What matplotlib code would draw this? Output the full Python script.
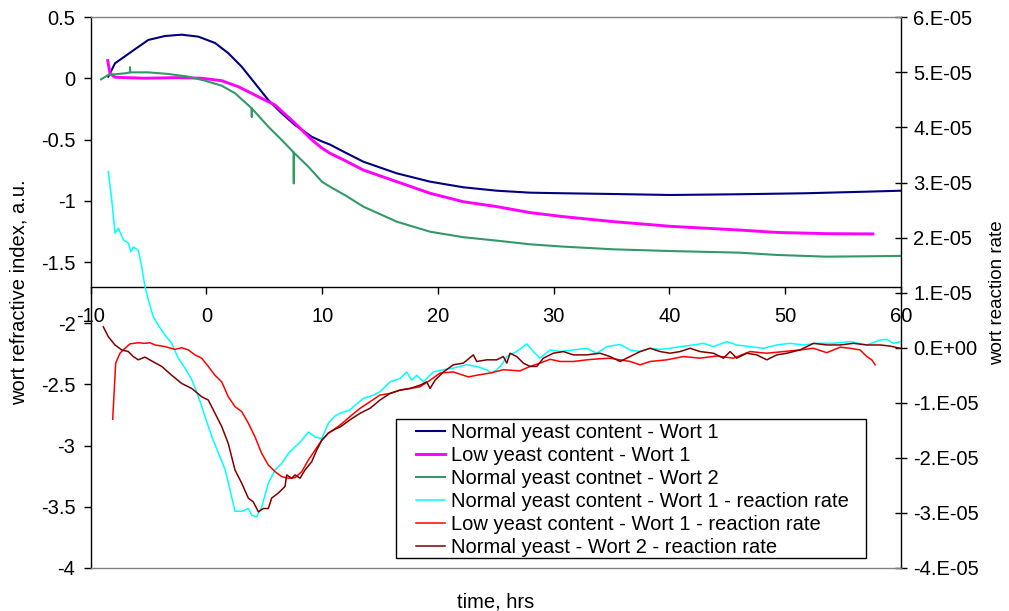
import numpy as np
import matplotlib
matplotlib.use("Agg")
import matplotlib.pyplot as plt
from matplotlib.patches import Rectangle
from matplotlib.ticker import FuncFormatter, MultipleLocator

plt.rcParams['font.family'] = ['Liberation Sans', 'DejaVu Sans']

# ---------------- data: refractive index (left axis) ----------------
navy_x = [-8.48, -7.90, -6.46, -5.02, -3.58, -2.14, -0.70, 0.75, 1.90, 3.05, 4.20, 5.35,
          6.50, 7.65, 9.10, 10.0, 10.68, 12.0, 13.56, 16.45, 19.33, 22.2, 25.1, 27.97,
          30.85, 35.2, 40.1, 46.0, 51.7, 57.0, 60.0]
navy_y = [0.015, 0.124, 0.22, 0.315, 0.347, 0.358, 0.342, 0.29, 0.206, 0.096, -0.04, -0.176,
          -0.284, -0.38, -0.476, -0.515, -0.54, -0.605, -0.68, -0.775, -0.843, -0.889, -0.917,
          -0.933, -0.938, -0.944, -0.952, -0.946, -0.938, -0.925, -0.917]

mag_x = [-8.53, -8.33, -7.90, -5.31, -2.43, -0.41, 1.32, 2.76, 4.49, 5.93, 7.66, 9.10,
         10.0, 10.68, 12.0, 13.56, 16.45, 19.33, 22.2, 25.1, 27.97, 30.85, 35.2, 40.1,
         46.0, 49.3, 53.6, 57.6]
mag_y = [0.146, 0.04, 0.01, 0.002, 0.007, 0.002, -0.018, -0.067, -0.149, -0.217, -0.366, -0.5,
         -0.57, -0.611, -0.672, -0.748, -0.843, -0.938, -1.007, -1.047, -1.096, -1.129, -1.17,
         -1.208, -1.238, -1.258, -1.268, -1.27]

grn_x = [-9.11, -8.48, -7.04, -6.6, -6.6, -6.6, -5.02, -3.29, -1.56, -0.12, 1.32, 2.48,
         3.92, 3.92, 3.92, 5.35, 6.50, 7.55, 7.55, 7.55, 8.8, 10.0, 10.68, 12.0, 13.56,
         16.45, 19.33, 22.2, 25.1, 27.97, 30.85, 35.2, 40.1, 46.0, 49.3, 53.6, 60.0]
grn_y = [-0.007, 0.029, 0.042, 0.05, 0.09, 0.05, 0.05, 0.037, 0.015, -0.018, -0.059, -0.121,
         -0.244, -0.312, -0.244, -0.394, -0.502, -0.605, -0.856, -0.605, -0.72, -0.845, -0.884,
         -0.955, -1.047, -1.17, -1.252, -1.297, -1.325, -1.355, -1.374, -1.396, -1.41, -1.423,
         -1.442, -1.456, -1.45]

# ---------------- data: reaction rate (right axis, units of 1e-5) ----------------
cyan_x = [-8.48, -8.18, -7.90, -7.61, -7.18, -6.75, -6.52, -6.32, -5.89, -5.59, -5.31, -5.02,
          -4.59, -4.16, -3.58, -3.00, -2.43, -1.85, -1.27, -0.70, -0.12, 0.46, 1.03, 1.61,
          2.04, 2.47, 3.05, 3.62, 3.92, 4.35, 4.78, 5.35, 5.93, 6.51, 7.08, 7.66, 8.24, 8.81,
          9.39, 9.97, 10.54, 11.12, 11.55, 12.41, 12.70, 13.56, 14.43, 15.00, 15.87, 16.73,
          17.31, 17.74, 18.18, 18.75, 19.61, 20.48, 21.34, 22.50, 23.36, 24.23, 24.66, 25.09,
          25.52, 25.96, 26.82, 27.68, 28.25, 28.83, 29.70, 30.56, 31.71, 32.87, 33.73, 34.60,
          35.75, 36.61, 37.48, 38.34, 39.21, 40.07, 40.93, 42.08, 42.95, 43.81, 44.97, 45.83,
          46.98, 48.13, 49.29, 50.44, 51.59, 52.75, 54.19, 55.63, 57.07, 58.22, 58.80, 59.37, 60.0]
cyan_y = [3.196, 2.68, 2.08, 2.17, 1.96, 1.90, 1.74, 1.83, 1.77, 1.47, 1.11, 0.87,
          0.56, 0.41, 0.23, 0.08, -0.19, -0.37, -0.58, -0.88, -1.25, -1.61, -1.91, -2.21,
          -2.58, -2.97, -2.97, -2.92, -3.04, -3.07, -2.89, -2.46, -2.22, -2.10, -1.92, -1.80,
          -1.68, -1.53, -1.62, -1.65, -1.37, -1.24, -1.19, -1.13, -1.07, -0.92, -0.86, -0.80,
          -0.62, -0.56, -0.44, -0.59, -0.50, -0.62, -0.44, -0.40, -0.37, -0.31, -0.34, -0.40,
          -0.46, -0.40, -0.31, -0.16, -0.07, 0.07, -0.07, -0.19, -0.04, -0.07, -0.04, -0.01,
          -0.10, 0.02, 0.06, -0.04, -0.07, -0.01, -0.03, -0.01, 0.02, 0.05, 0.08, 0.02, 0.11,
          0.05, 0.02, -0.01, 0.05, 0.08, 0.05, 0.08, 0.08, 0.11, 0.05, 0.14, 0.15, 0.08, 0.11]

red_x = [-8.10, -7.84, -7.47, -7.04, -6.60, -5.89, -5.31, -4.87, -4.44, -3.58, -2.71, -2.13,
         -1.56, -0.99, -0.41, 0.16, 0.74, 1.32, 1.89, 2.47, 3.05, 3.62, 4.20, 4.78, 5.35, 5.93,
         6.51, 7.08, 7.66, 8.24, 8.81, 9.39, 9.97, 10.54, 11.40, 11.98, 12.41, 13.28, 14.14,
         15.00, 15.87, 16.73, 17.60, 18.46, 19.33, 20.19, 21.34, 22.20, 22.64, 23.36, 24.51,
         25.66, 27.10, 27.97, 28.83, 29.70, 30.56, 31.71, 32.87, 34.02, 34.88, 35.75, 36.61,
         37.48, 38.34, 39.78, 41.22, 42.66, 44.10, 45.54, 46.98, 48.43, 49.87, 51.30, 52.46,
         53.61, 54.77, 55.63, 56.49, 57.07, 57.50, 57.79]
red_y = [-1.30, -0.28, -0.10, -0.01, 0.07, 0.09, 0.08, 0.09, 0.05, 0.02, -0.03, 0.00,
         -0.04, -0.13, -0.19, -0.34, -0.50, -0.62, -0.89, -1.07, -1.16, -1.37, -1.62, -1.92,
         -2.13, -2.25, -2.34, -2.37, -2.36, -2.25, -2.04, -1.86, -1.68, -1.55, -1.43, -1.33,
         -1.25, -1.10, -0.98, -0.86, -0.83, -0.77, -0.74, -0.71, -0.59, -0.46, -0.44, -0.50,
         -0.53, -0.50, -0.46, -0.40, -0.42, -0.34, -0.28, -0.21, -0.25, -0.25, -0.22, -0.20,
         -0.19, -0.22, -0.25, -0.31, -0.25, -0.22, -0.16, -0.19, -0.15, -0.19, -0.07, -0.10,
         -0.07, -0.04, -0.01, -0.09, 0.01, -0.01, -0.04, -0.16, -0.22, -0.31]

dred_x = [-8.91, -8.48, -7.90, -7.32, -6.75, -6.32, -5.89, -5.31, -4.73, -3.86, -3.00, -2.13,
          -1.27, -0.41, 0.16, 0.74, 1.32, 1.89, 2.47, 3.05, 3.62, 4.05, 4.49, 4.92, 5.35, 5.64,
          6.21, 6.79, 6.94, 7.37, 7.66, 8.09, 8.52, 9.10, 9.53, 9.97, 10.54, 11.12, 11.55,
          12.41, 13.28, 14.14, 15.00, 15.87, 16.73, 17.60, 18.46, 19.04, 19.33, 19.76, 20.48,
          21.34, 22.20, 23.07, 23.36, 24.23, 25.09, 25.66, 25.96, 26.24, 26.82, 27.39, 27.97,
          28.55, 29.12, 29.98, 30.85, 31.71, 32.87, 34.02, 34.88, 35.75, 36.61, 37.48, 38.34,
          39.21, 40.07, 40.93, 41.80, 42.66, 43.81, 44.68, 45.26, 45.83, 46.70, 47.56, 48.43,
          49.29, 50.16, 51.30, 52.46, 53.61, 54.77, 55.92, 57.07, 58.22, 59.09, 59.95]
dred_y = [0.38, 0.20, 0.05, -0.04, -0.07, -0.16, -0.22, -0.17, -0.24, -0.34, -0.50, -0.65,
          -0.74, -0.89, -0.95, -1.19, -1.43, -1.74, -2.22, -2.46, -2.73, -2.80, -2.98, -2.92,
          -2.92, -2.73, -2.64, -2.52, -2.31, -2.37, -2.31, -2.37, -2.22, -2.07, -1.86, -1.68,
          -1.55, -1.48, -1.44, -1.31, -1.19, -1.10, -0.95, -0.83, -0.77, -0.74, -0.68, -0.62,
          -0.74, -0.59, -0.44, -0.31, -0.28, -0.13, -0.25, -0.22, -0.22, -0.16, -0.28, -0.10,
          -0.16, -0.28, -0.34, -0.34, -0.19, -0.10, -0.07, -0.13, -0.13, -0.10, -0.16, -0.25,
          -0.16, -0.07, -0.01, -0.07, -0.10, -0.07, -0.01, -0.07, -0.10, -0.19, -0.07, -0.19,
          -0.10, -0.13, -0.22, -0.13, -0.10, -0.04, 0.08, 0.05, 0.05, 0.08, 0.05, 0.05, 0.03,
          -0.01]
RATE_UNIT = 1e-5

labels = ["Normal yeast content - Wort 1",
          "Low yeast content - Wort 1",
          "Normal yeast contnet - Wort 2",
          "Normal yeast content - Wort 1 - reaction rate",
          "Low yeast content - Wort 1 - reaction rate",
          "Normal yeast - Wort 2 - reaction rate"]
colors = ["#000080", "#FF00FF", "#339966", "#00FFFF", "#FF0000", "#800000"]

FS = 14.5

fig = plt.figure(figsize=(10.09, 6.11), dpi=100)
ax = fig.add_axes([0.08989, 0.07038, 0.80278, 0.90131])
ax2 = ax.twinx()

h1, = ax.plot(navy_x, navy_y, color=colors[0], lw=1.5)
h2, = ax.plot(mag_x, mag_y, color=colors[1], lw=2.1)
h3, = ax.plot(grn_x, grn_y, color=colors[2], lw=1.5)

h4, = ax2.plot(cyan_x, np.array(cyan_y) * RATE_UNIT, color=colors[3], lw=1.1)
h5, = ax2.plot(red_x, np.array(red_y) * RATE_UNIT, color=colors[4], lw=1.1)
h6, = ax2.plot(dred_x, np.array(dred_y) * RATE_UNIT, color=colors[5], lw=1.1)

ax.set_xlim(-10, 60)
ax.set_ylim(-4, 0.5)
ax2.set_ylim(-4e-5, 6e-5)

ax.xaxis.set_major_locator(MultipleLocator(10))
ax.yaxis.set_major_locator(MultipleLocator(0.5))
ax2.yaxis.set_major_locator(MultipleLocator(1e-5))

ax.yaxis.set_major_formatter(FuncFormatter(lambda v, p: f"{v:g}"))
ax.xaxis.set_major_formatter(FuncFormatter(lambda v, p: f"{v:g}"))

def rfmt(v, p):
    n = int(round(v / 1e-5))
    return "0.E+00" if n == 0 else f"{n}.E-05"
ax2.yaxis.set_major_formatter(FuncFormatter(rfmt))

# spines
ax.spines['top'].set_visible(False)
ax.spines['right'].set_visible(False)
ax.spines['bottom'].set_position(('data', -1.7))
ax.spines['bottom'].set_linewidth(1.0)
ax.spines['left'].set_linewidth(1.0)
ax2.spines['left'].set_visible(False)
ax2.spines['right'].set_linewidth(1.0)
for s in ('top', 'bottom'):
    ax2.spines[s].set_color('#808080')
    ax2.spines[s].set_linewidth(1.0)

ax.tick_params(axis='x', direction='out', length=5, width=1, labelsize=FS, pad=10)
ax.tick_params(axis='y', direction='out', length=5, width=1, labelsize=FS, pad=6)
ax2.tick_params(axis='y', direction='inout', length=8, width=1, labelsize=FS, pad=5)

ax.set_xlabel("time, hrs", fontsize=FS)
ax.xaxis.set_label_coords(0.5, -0.061)
ax.xaxis.label.set_va('center')
ax.set_ylabel("wort refractive index, a.u.", fontsize=FS)
ax.yaxis.set_label_coords(-0.088, 0.5)
ax.yaxis.label.set_va('center')
ax2.set_ylabel("wort reaction rate", fontsize=13.5)
ax2.yaxis.set_label_coords(1.119, 0.5)
ax2.yaxis.label.set_va('center')
ax2.yaxis.label.set_rotation(90)

# legend box
ax2.add_patch(Rectangle((0.3765, 0.018), 0.5807, 0.2524, transform=ax2.transAxes,
                        facecolor='white', edgecolor='black', lw=1.0, zorder=5))
leg = ax2.legend([h1, h2, h3, h4, h5, h6], labels, loc='center left',
                 bbox_to_anchor=(0.4016, 0.1416), frameon=False, fontsize=FS,
                 borderpad=0, borderaxespad=0, handlelength=1.45, handletextpad=0.3,
                 labelspacing=0.2)
leg.set_zorder(6)

fig.savefig("out.png", dpi=100)
